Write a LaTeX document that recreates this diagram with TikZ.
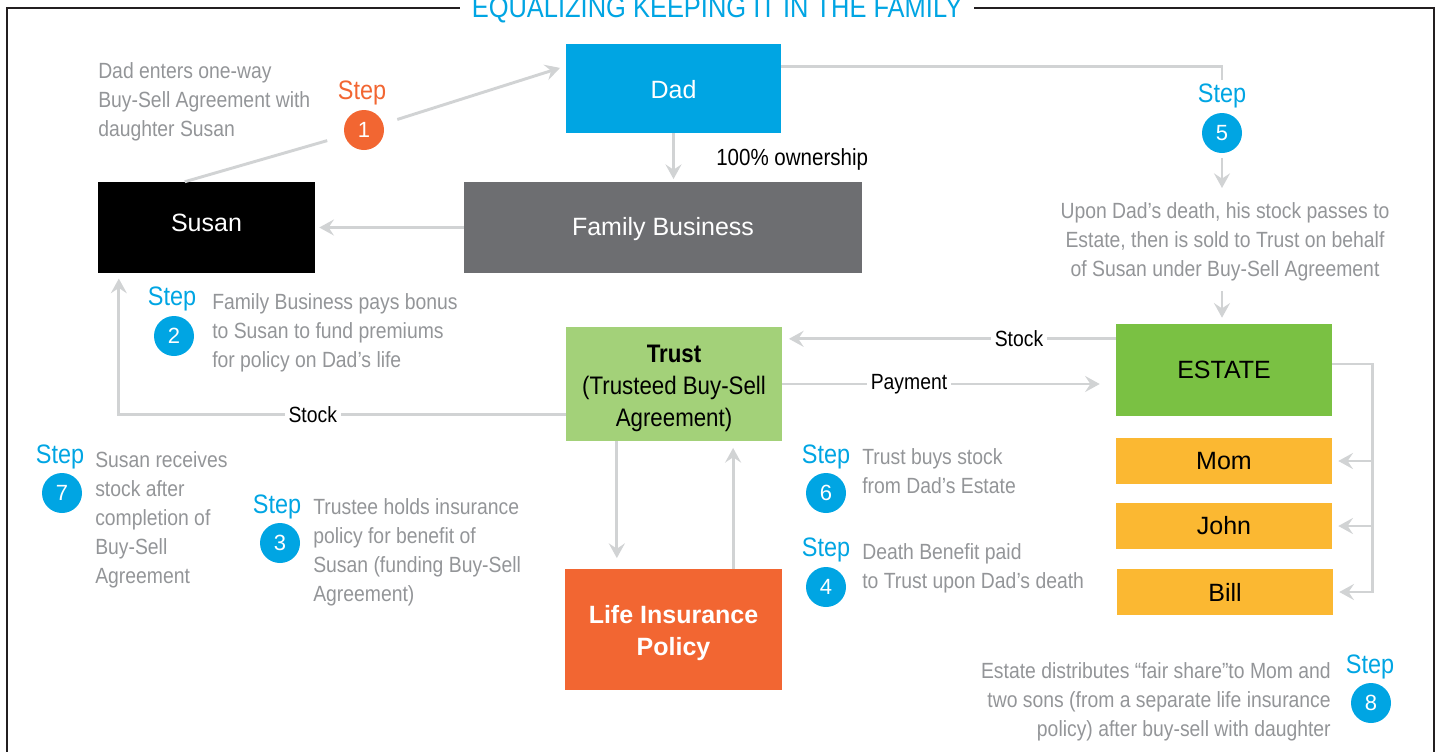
\documentclass[tikz,border=0pt]{standalone}
\usepackage{fontspec}
\setmainfont{Liberation Sans}
\newfontfamily\condfont[FakeStretch=0.88]{Liberation Sans}
\usetikzlibrary{calc,arrows.meta}

\definecolor{stepblue}{HTML}{00A5E3}
\definecolor{steporange}{HTML}{F26632}
\definecolor{bizgray}{HTML}{6D6E71}
\definecolor{trustgreen}{HTML}{A3D179}
\definecolor{estategreen}{HTML}{7AC143}
\definecolor{heiryellow}{HTML}{FBB832}
\definecolor{notegray}{HTML}{939598}
\definecolor{linegray}{HTML}{D1D3D4}
\definecolor{framecol}{HTML}{231F20}

\begin{document}
\begin{tikzpicture}[x=0.75pt,y=-0.75pt,
  box/.style={rectangle, inner sep=0pt, align=center,
    font=\fontsize{18.75}{24}\selectfont},
  boxtext/.style={inner sep=0pt, align=center},
  link/.style={draw=linegray, line width=2.2pt},
  arr/.style={link, -{Stealth[length=11pt,width=12pt,inset=4pt]}},
  steplbl/.style={inner sep=0pt, text=stepblue,
    font=\condfont\fontsize{20}{24}\selectfont},
  stepdot/.style={circle, fill=stepblue, minimum size=30pt, inner sep=0pt,
    text=white, font=\fontsize{16.5}{18}\selectfont},
  note/.style={inner sep=0pt, text=notegray, align=left,
    font=\condfont\fontsize{16.5}{21.75}\selectfont},
  flowlbl/.style={inner sep=3pt, fill=white, text=black,
    font=\condfont\fontsize{16.5}{20}\selectfont},
]
\useasboundingbox (0,0) rectangle (1438,751);
\clip (0,0) rectangle (1438,751);

% outer frame with the heading set into its top edge
\draw[framecol, line width=1.5pt] (7,770) -- (7,8) -- (1434,8) -- (1434,770);
\node[fill=white, text=stepblue, inner xsep=9pt, inner ysep=2pt, anchor=base,
  font=\condfont\fontsize{21.7}{24}\selectfont] (title) at (717,17)
  {EQUALIZING KEEPING IT IN THE FAMILY};

% parties
\node[box, fill=stepblue, minimum width=161.25pt, minimum height=66.75pt]
  (dad) at (673.5,88.5) {};
\node[boxtext, text=white, font=\fontsize{18.75}{24}\selectfont]
  (dad-name) at (673.5,90) {Dad};
\node[box, fill=bizgray, minimum width=298.5pt, minimum height=68.25pt]
  (fb) at (663,227.5) {};
\node[boxtext, text=white, font=\fontsize{18.75}{24}\selectfont]
  (fb-name) at (663,229) {Family Business};
\node[box, fill=black, minimum width=162.75pt, minimum height=68.25pt]
  (susan) at (206.5,227.5) {};
\node[boxtext, text=white, font=\fontsize{18.75}{24}\selectfont]
  (susan-name) at (206.5,223) {Susan};
\node[box, fill=trustgreen, minimum width=162pt, minimum height=85.5pt]
  (trust) at (674,384) {};
\node[boxtext, text=black, font=\condfont\fontsize{19}{24}\selectfont]
  (trust-name) at (674,388) {\textbf{Trust}\\(Trusteed Buy-Sell\\Agreement)};
\node[box, fill=steporange, minimum width=162.75pt, minimum height=90.75pt]
  (lip) at (673.5,629.5) {};
\node[boxtext, text=white, font=\bfseries\fontsize{18.75}{24}\selectfont]
  (lip-name) at (673.5,633) {Life Insurance\\Policy};
\node[box, fill=estategreen, text=black, minimum width=162pt, minimum height=69pt]
  (estate) at (1224,370) {ESTATE};
\node[box, fill=heiryellow, text=black, minimum width=162pt, minimum height=34.5pt]
  (mom) at (1224,461) {Mom};
\node[box, fill=heiryellow, text=black, minimum width=162pt, minimum height=34.5pt]
  (john) at (1224,526) {John};
\node[box, fill=heiryellow, text=black, minimum width=162pt, minimum height=34.5pt]
  (bill) at (1225,592) {Bill};

% step markers
\node[steplbl, text=steporange] (s1) at (362,93) {Step};
\node[stepdot, fill=steporange] (c1) at (364,130) {1};
\node[steplbl] (s2) at (172,299) {Step};
\node[stepdot] (c2) at (174,336) {2};
\node[steplbl] (s3) at (277,507) {Step};
\node[stepdot] (c3) at (280,543) {3};
\node[steplbl] (s4) at (826,550) {Step};
\node[stepdot] (c4) at (826,587) {4};
\node[steplbl] (s5) at (1222,96) {Step};
\node[stepdot] (c5) at (1222,133) {5};
\node[steplbl] (s6) at (826,457) {Step};
\node[stepdot] (c6) at (826,493) {6};
\node[steplbl] (s7) at (60,457) {Step};
\node[stepdot] (c7) at (62,493) {7};
\node[steplbl] (s8) at (1370,667) {Step};
\node[stepdot] (c8) at (1371,703) {8};

% step descriptions
\node[note, anchor=north west] (t1) at (98,62)
  {Dad enters one-way\\Buy-Sell Agreement with\\daughter Susan};
\node[note, anchor=north west] (t2) at (212,293)
  {Family Business pays bonus\\to Susan to fund premiums\\for policy on Dad’s life};
\node[note, anchor=north west] (t3) at (313,498)
  {Trustee holds insurance\\policy for benefit of\\Susan (funding Buy-Sell\\Agreement)};
\node[note, anchor=north west] (t4) at (862,543)
  {Death Benefit paid\\to Trust upon Dad’s death};
\node[note, anchor=north, align=center] (t5) at (1225,202)
  {Upon Dad’s death, his stock passes to\\Estate, then is sold to Trust on behalf\\of Susan under Buy-Sell Agreement};
\node[note, anchor=north west] (t6) at (862,448)
  {Trust buys stock\\from Dad’s Estate};
\node[note, anchor=north west] (t7) at (95,451)
  {Susan receives\\stock after\\completion of\\Buy-Sell\\Agreement};
\node[note, anchor=north east, align=right] (t8) at (1331,662)
  {Estate distributes “fair share”to Mom and\\two sons (from a separate life insurance\\policy) after buy-sell with daughter};

% connection points on the box edges
\coordinate (sus-top) at ($(susan.north west)!0.4!(susan.north east)$);
\coordinate (dad-in) at ($(dad.north west)!0.25!(dad.south west)$);
\coordinate (dad-out) at ($(dad.north east)!0.25!(dad.south east)$);
\coordinate (est-stock) at ($(estate.north west)!0.163!(estate.south west)$);
\coordinate (tr-stock) at ($(trust.north west)!0.77!(trust.south west)$);
\coordinate (sus-in) at ($(susan.south west)!0.097!(susan.south east)$);
\coordinate (tr-down) at ($(trust.south west)!0.236!(trust.south east)$);
\coordinate (lip-up) at ($(lip.north west)!0.774!(lip.north east)$);
\coordinate (est-out) at ($(estate.north east)!0.435!(estate.south east)$);
\coordinate (trunk) at ($(est-out)+(40,0)$);

% step 1: buy-sell agreement between Susan and Dad
\draw[link, shorten >=13.5pt] (sus-top) -- (c1);
\draw[arr, shorten <=11pt, shorten >=4.5pt] (c1) -- (dad-in);

% ownership and bonus
\draw[arr, shorten >=2pt] (dad.south) -- (dad.south |- fb.north);
\node[inner sep=0pt, text=black, anchor=west,
  font=\condfont\fontsize{17.5}{20}\selectfont] (own) at (716,159) {100\% ownership};
\draw[arr, shorten >=3pt] (fb.west) -- (susan.east);

% step 5: Dad's stock passes to the estate
\draw[link, shorten >=3pt] (dad-out) -| (s5.north);
\draw[arr, shorten <=3.75pt, shorten >=10.5pt] (c5.south) -- (c5 |- t5.north);
\draw[arr, shorten <=7.5pt, shorten >=4.5pt] (c5 |- t5.south) -- (c5 |- estate.north);

% stock and payment between estate and trust
\draw[arr, shorten >=5pt] (est-stock) -- (est-stock -| trust.east)
  node[flowlbl, pos=0.29] (lbl-stock1) {Stock};
\draw[arr, shorten >=12pt] (trust.east) -- (trust.east -| estate.west)
  node[flowlbl, pos=0.38] (lbl-pay) {Payment};

% stock from trust to Susan
\draw[arr, shorten >=4pt] (tr-stock) -| (sus-in)
  node[flowlbl, pos=0.283] (lbl-stock2) {Stock};

% trust and life insurance policy
\draw[arr, shorten >=8pt] (tr-down) -- (tr-down |- lip.north);
\draw[arr, shorten >=5pt] (lip-up) -- (lip-up |- trust.south);

% estate distribution to the heirs
\draw[arr, shorten >=4.5pt] (est-out) -- (trunk) |- (bill.east);
\draw[arr, shorten >=4.5pt] (trunk |- mom.east) -- (mom.east);
\draw[arr, shorten >=4.5pt] (trunk |- john.east) -- (john.east);
\end{tikzpicture}
\end{document}
